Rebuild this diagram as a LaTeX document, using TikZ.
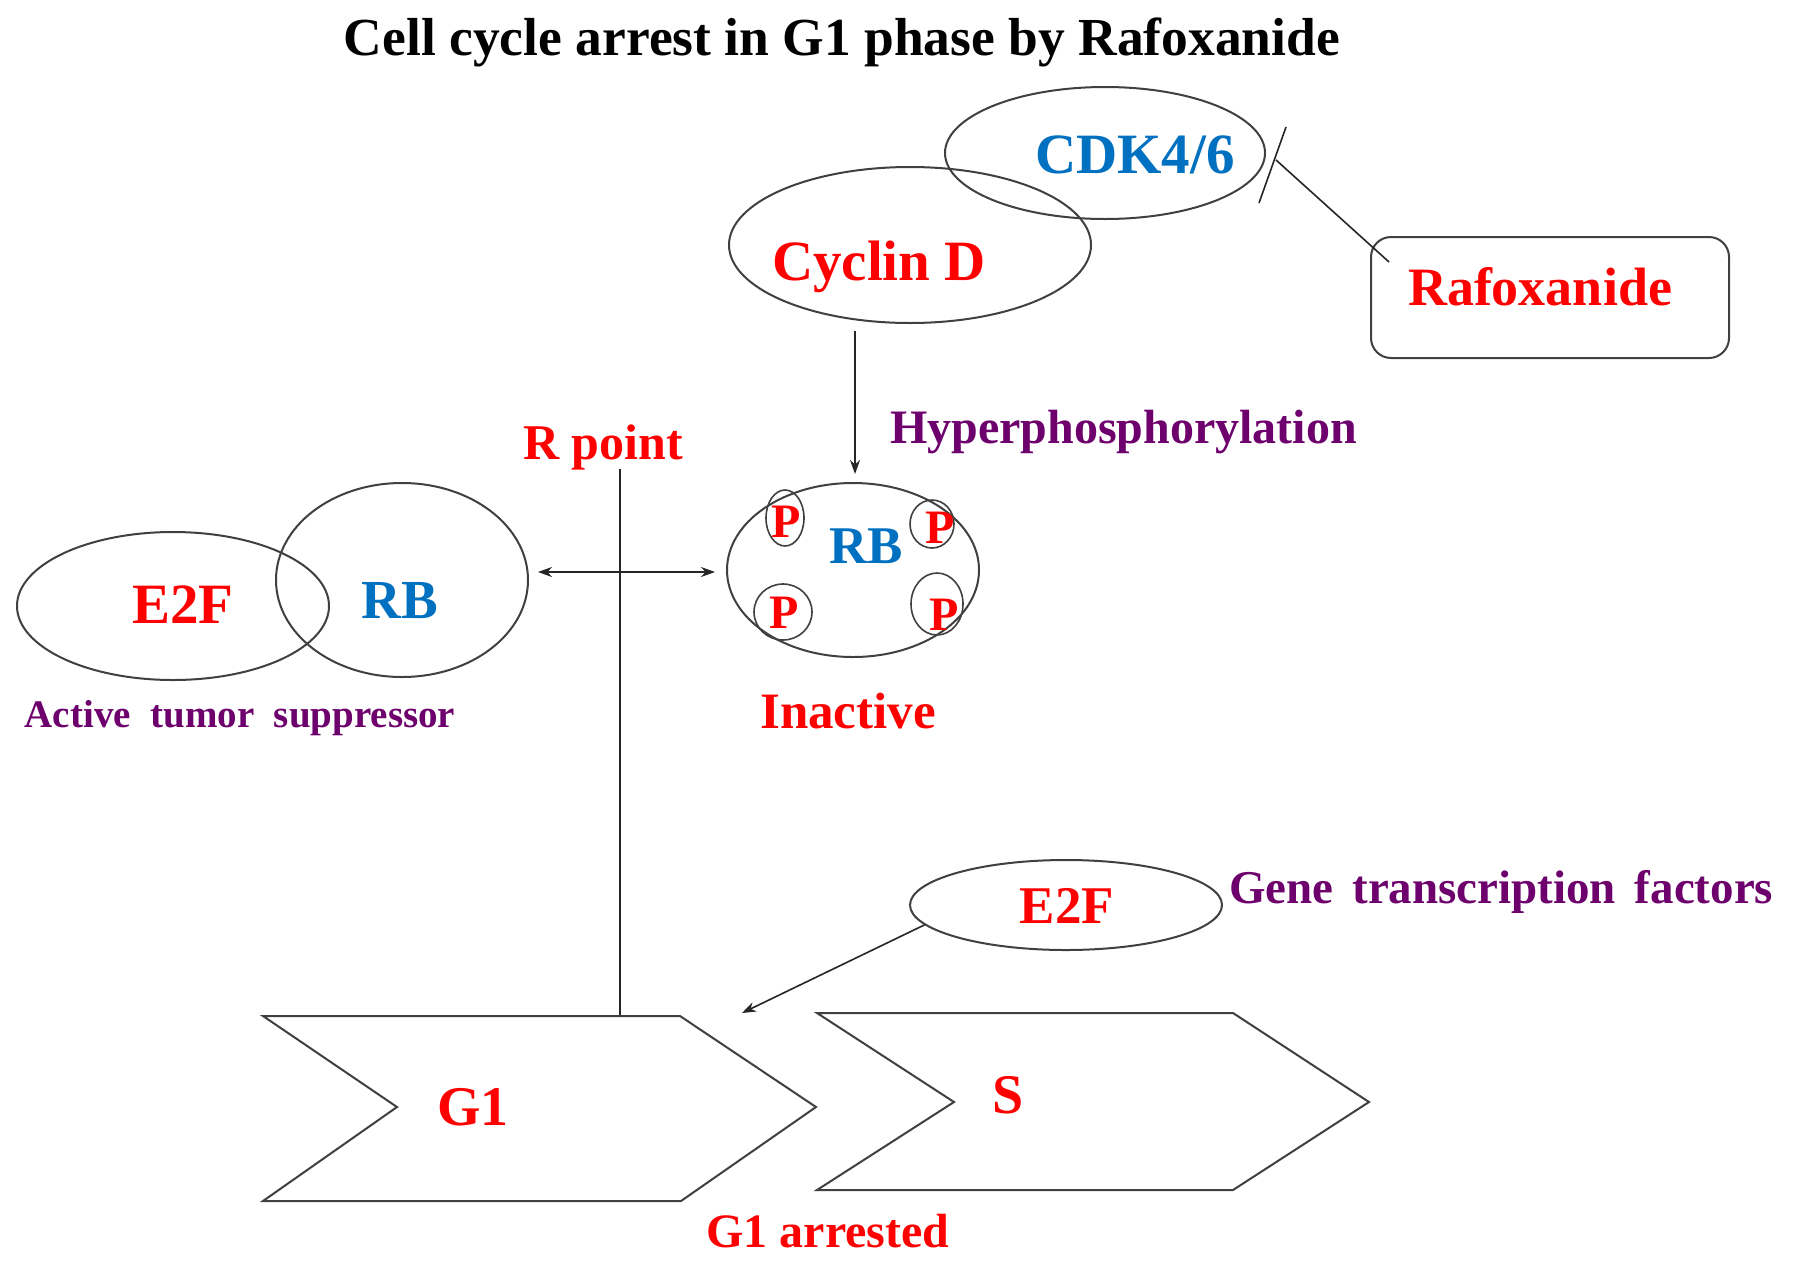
\documentclass[tikz,border=0pt]{standalone}
\usepackage{fontspec}
\setmainfont{Liberation Serif}
\usetikzlibrary{shapes.geometric,arrows.meta}
\definecolor{myred}{RGB}{255,0,0}
\definecolor{myblue}{RGB}{0,112,192}
\definecolor{mypurple}{RGB}{110,0,110}
\definecolor{edgegray}{RGB}{64,64,64}
\newcommand\fsz[1]{\fontsize{#1pt}{#1pt}\selectfont}
\begin{document}
\begin{tikzpicture}[x=1pt,y=-1pt,
  ell/.style={draw=edgegray,line width=2pt,ellipse,inner sep=0pt},
  pell/.style={draw=edgegray,line width=1.6pt,ellipse,inner sep=0pt},
  lbl/.style={inner sep=0pt,anchor=base,font=\bfseries},
  conn/.style={draw=black!85,line width=1.6pt},
  tipend/.style={-{Stealth[length=14pt,width=10pt]}},
  tipboth/.style={{Stealth[length=14pt,width=10pt]}-{Stealth[length=14pt,width=10pt]}}
]
\useasboundingbox[fill=white] (0,0) rectangle (1795,1272);

% title
\node[lbl,text=black] (title) at (842,55) {\fsz{53.5}Cell cycle arrest in G1 phase by Rafoxanide};

% CDK4/6 and Cyclin D
\node[ell,minimum width=320pt,minimum height=132pt] (cdk) at (1105,153) {};
\node[ell,minimum width=362pt,minimum height=156pt] (cyc) at (910,245) {};
\node[lbl,text=myblue] (cdkt) at (1135,173) {\fsz{57}CDK4/6};
\node[lbl,text=myred] (cyct) at (879,280) {\fsz{57}Cyclin D};

% Rafoxanide box and inhibition
\node[draw=edgegray,line width=2pt,rounded corners=20pt,minimum width=358pt,minimum height=121pt,inner sep=0pt] (raf) at (1550,297.5) {};
\node[lbl,text=myred] (raft) at (1540,305) {\fsz{54}Rafoxanide};
\coordinate (barA) at (1259,203);
\coordinate (barB) at (1286,127);
\coordinate (inhEnd) at (1276,160);
\coordinate (rafIn) at (1389,262);
\draw[conn] (barA) -- (barB);
\draw[conn] (rafIn) -- (inhEnd);

% Hyperphosphorylation arrow
\coordinate (hypS) at (855,331);
\coordinate (hypE) at (855,474);
\draw[conn,tipend] (hypS) -- (hypE);
\node[lbl,anchor=base west,text=mypurple] (hypt) at (890,443) {\fsz{48}Hyperphosphorylation};

% R point
\node[lbl,text=myred] (rpt) at (603,459) {\fsz{50}R point};
\coordinate (rlineTop) at (620,469);
\coordinate (g1top) at (620,1016);
\draw[conn] (rlineTop) -- (g1top);

% Active complex E2F-RB
\node[ell,minimum width=312pt,minimum height=148pt] (e2fa) at (173,606) {};
\node[ell,minimum width=252pt,minimum height=194pt] (rba) at (402,580) {};
\node[lbl,text=myred] (e2fat) at (183,623) {\fsz{57}E2F};
\node[lbl,text=myblue] (rbat) at (400,618) {\fsz{55}RB};
\node[lbl,text=mypurple] (actt) at (240,727) {\fsz{39}Active\hspace{0.5em}tumor\hspace{0.5em}suppressor};

% double arrow
\coordinate (dA) at (538,572);
\coordinate (dB) at (715,572);
\draw[conn,tipboth] (dA) -- (dB);

% Inactive phosphorylated RB
\node[ell,minimum width=252pt,minimum height=174pt] (rbi) at (853,570) {};
\node[lbl,text=myblue] (rbit) at (866,563) {\fsz{53}RB};
\node[pell,minimum width=38pt,minimum height=56pt] (p1) at (785,518) {};
\node[pell,minimum width=44pt,minimum height=48pt] (p2) at (932,524) {};
\node[pell,minimum width=58pt,minimum height=56pt] (p3) at (783,612) {};
\node[pell,minimum width=52pt,minimum height=62pt] (p4) at (937,604) {};
\node[lbl,text=myred] (p1t) at (786,537) {\fsz{48}P};
\node[lbl,text=myred] (p2t) at (940,543) {\fsz{48}P};
\node[lbl,text=myred] (p3t) at (784,628) {\fsz{48}P};
\node[lbl,text=myred] (p4t) at (944,630) {\fsz{48}P};
\node[lbl,text=myred] (inact) at (848,728) {\fsz{51}Inactive};

% Free E2F
\node[ell,minimum width=312pt,minimum height=90pt] (e2fb) at (1066,905) {};
\node[lbl,text=myred] (e2fbt) at (1067,923) {\fsz{53}E2F};
\node[lbl,anchor=base west,text=mypurple] (genet) at (1229,903) {\fsz{47}Gene\hspace{0.4em}transcription\hspace{0.4em}factors};
\coordinate (e2fArrEnd) at (742,1013);
\draw[conn,tipend] (e2fb.188) -- (e2fArrEnd);

% G1 and S chevrons
\draw[draw=edgegray,line width=2pt] (263,1016) -- (680,1016) -- (816,1107) -- (681,1201) -- (263,1201) -- (397,1107) -- cycle;
\draw[draw=edgegray,line width=2pt] (817,1013) -- (1233,1013) -- (1369,1102) -- (1233,1190) -- (817,1190) -- (954,1102) -- cycle;
\node[lbl,text=myred] (g1t) at (473,1125) {\fsz{56}G1};
\node[lbl,text=myred] (st) at (1008,1113) {\fsz{56}S};
\node[lbl,text=myred] (g1arr) at (828,1247) {\fsz{48}G1 arrested};
\end{tikzpicture}
\end{document}
